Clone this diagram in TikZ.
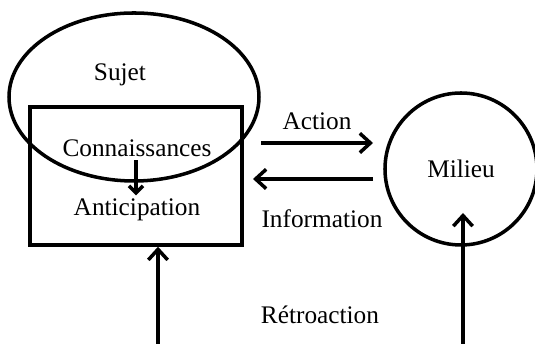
\documentclass[tikz,border=0pt]{standalone}
\usepackage{fontspec}
\setmainfont{Liberation Serif}
\usetikzlibrary{arrows.meta, positioning, shapes.geometric}

\begin{document}
\begin{tikzpicture}[line width=2pt,>={Straight Barb[length=6pt,width=11pt]},
      every node/.style={font=\fontsize{14.4}{17}\selectfont},
      lbl/.style={inner sep=1pt}]
      \useasboundingbox (0,0) rectangle (10.7,6.88);
      \node[draw, ellipse, minimum width=5cm, minimum height=3.36cm] (sujet) at (2.68,4.94) {};
      \node[draw, rectangle, minimum width=4.24cm, minimum height=2.76cm] (box) at (2.72,3.36) {};
      \node[draw, circle, minimum size=3.04cm] (milieu) at (9.22,3.5) {Milieu};
      \node (sujettxt) at (2.4,5.38) {Sujet};
      \node[lbl] (conn) at (2.74,3.92) {Connaissances};
      \node[lbl] (antic) at (2.74,2.68) {Anticipation};
      \coordinate (a1) at (5.22,4.02);
      \coordinate (a2) at (7.46,4.02);
      \coordinate (i1) at (7.46,3.3);
      \coordinate (i2) at (5.06,3.3);
      \coordinate (r1) at (3.16,0);
      \coordinate (r2) at (9.26,0);
      \coordinate (mtip) at (9.26,2.62);
      \draw[->, >={Straight Barb[length=4pt,width=8pt]}] (conn.south -| 2.72,0) -- (antic.north -| 2.72,0);
      \draw[->] (a1) -- node[above=3pt] (action) {Action} (a2);
      \draw[->] (i1) -- (i2);
      \node (info) at (6.44,2.5) {Information};
      \node (retro) at (6.4,0.58) {Rétroaction};
      \draw[->] (r1) -- (r1 |- box.south);
      \draw[->] (r2) -- (mtip);
    \end{tikzpicture}
\end{document}
